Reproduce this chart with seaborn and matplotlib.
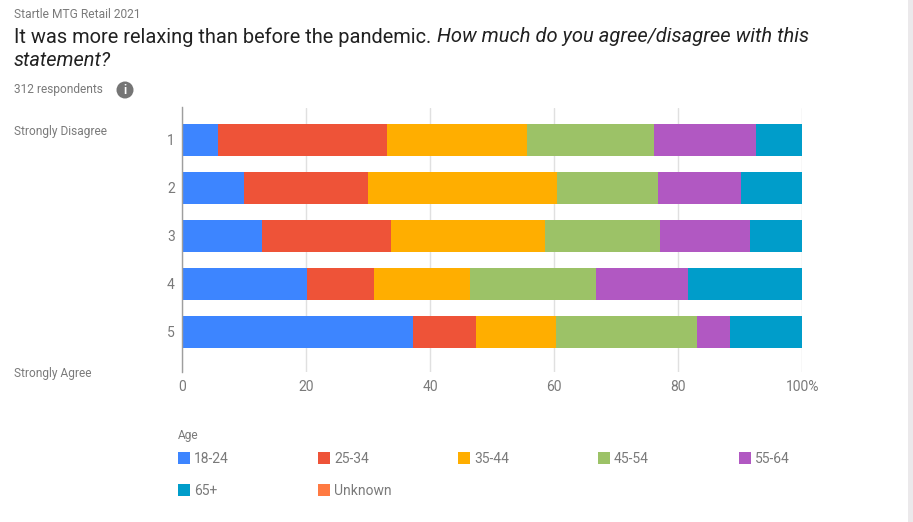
import matplotlib
matplotlib.use("Agg")
import matplotlib.pyplot as plt
import matplotlib.patches as mpatches
import numpy as np
import pandas as pd
import seaborn as sns

# Values (percent of each answer)
answers = ['1', '2', '3', '4', '5']
age_groups = ['18-24', '25-34', '35-44', '45-54', '55-64', '65+', 'Unknown']
age_18_24 = [5.9, 10.1, 13.0, 20.2, 37.3]
age_25_34 = [27.2, 19.9, 20.7, 10.8, 10.1]
age_35_44 = [22.5, 30.4, 24.9, 15.5, 12.9]
age_45_54 = [20.5, 16.3, 18.5, 20.2, 22.7]
age_55_64 = [16.4, 13.5, 14.4, 14.8, 5.4]
age_65_up = [7.5, 9.8, 8.5, 18.5, 11.6]
age_unknown = [0, 0, 0, 0, 0]
tick_values = [0, 20, 40, 60, 80, 100]
tick_labels = ['0', '20', '40', '60', '80', '100%']

colors = ['#3d85ff', '#ee5338', '#ffae00', '#9cc267', '#b158c2', '#009dca', '#ff7a42']
text_gray = '#7a7a7a'

sns.set_theme(style='whitegrid')
plt.rcParams['font.family'] = ['Roboto', 'DejaVu Sans']

W, H = 913, 522
fig = plt.figure(figsize=(W / 100, H / 100), dpi=100, facecolor='white')


# Figure positions below are given in screen pixels, measured from the top left
def fx(px):
    return px / W


def fy(py):
    return 1 - py / H


ax = fig.add_axes([fx(181.8), fy(371.5), fx(802.3 - 181.8), (371.5 - 107.5) / H])

data = pd.DataFrame(
    [age_18_24, age_25_34, age_35_44, age_45_54, age_55_64, age_65_up, age_unknown],
    index=age_groups, columns=answers,
)

# Stacked bars, one barplot call per age group
left = np.zeros(len(answers))
for group, color in zip(age_groups, colors):
    sns.barplot(x=data.loc[group].values, y=answers, left=left, color=color,
                orient='h', width=0.667, saturation=1, linewidth=0, edgecolor='none',
                ax=ax, zorder=3)
    left = left + data.loc[group].values

ax.set_xlim(0, 100)
ax.set_ylim(4.833, -0.667)
ax.set_xticks(tick_values)
ax.set_xticklabels(tick_labels)
ax.tick_params(axis='both', length=0, labelsize=10, labelcolor=text_gray)
ax.tick_params(axis='x', pad=6)
ax.tick_params(axis='y', pad=5)
ax.grid(True, axis='x', color='#e0e0e0', linewidth=1)
ax.grid(False, axis='y')
ax.set_axisbelow(True)
ax.set_xlabel('')
ax.set_ylabel('')
for side in ['top', 'right', 'bottom']:
    ax.spines[side].set_visible(False)
ax.spines['left'].set_color('#9e9e9e')
ax.spines['left'].set_linewidth(1)
ax.spines['left'].set_zorder(5)

# Header
fig.text(fx(14), fy(14), 'Startle MTG Retail 2021', fontsize=8.65, color=text_gray, va='center')
fig.text(fx(14), fy(37), 'It was more relaxing than before the pandemic.', fontsize=14.4,
         color='#212121', va='center')
fig.text(fx(436.5), fy(37), 'How much do you agree/disagree with this', fontsize=14.5,
         color='#212121', va='center', style='italic')
fig.text(fx(14), fy(61), 'statement?', fontsize=14.4, color='#212121', va='center', style='italic')
fig.text(fx(14), fy(90), '312 respondents', fontsize=8.6, color=text_gray, va='center')

# Info icon
fig.add_artist(mpatches.Ellipse((fx(125), fy(90)), 17 / W, 17 / H, facecolor='#757575',
                                edgecolor='none', transform=fig.transFigure))
fig.text(fx(125), fy(90), 'i', fontsize=8.6, color='white', fontweight='bold',
         ha='center', va='center')

# Scale end labels
fig.text(fx(14), fy(132), 'Strongly Disagree', fontsize=8.6, color=text_gray, va='center')
fig.text(fx(14), fy(374), 'Strongly Agree', fontsize=8.6, color=text_gray, va='center')

# Legend laid out like the original grid
fig.text(fx(178), fy(436), 'Age', fontsize=8.6, color=text_gray, va='center')
col_x = [178, 318, 458, 598, 739]
for i, (group, color) in enumerate(zip(age_groups, colors)):
    x = col_x[i % 5]
    y = 452 if i < 5 else 484
    fig.add_artist(mpatches.Rectangle((fx(x), fy(y + 12)), 12 / W, 12 / H, facecolor=color,
                                      edgecolor='none', transform=fig.transFigure))
    fig.text(fx(x + 16), fy(y + 7), group, fontsize=10, color=text_gray, va='center')

# Scrollbar strip at the right edge of the screenshot
fig.add_artist(mpatches.Rectangle((fx(908), 0), 5 / W, 1, facecolor='#ebe9eb',
                                  edgecolor='none', transform=fig.transFigure))

fig.savefig('out.png', dpi=100)
